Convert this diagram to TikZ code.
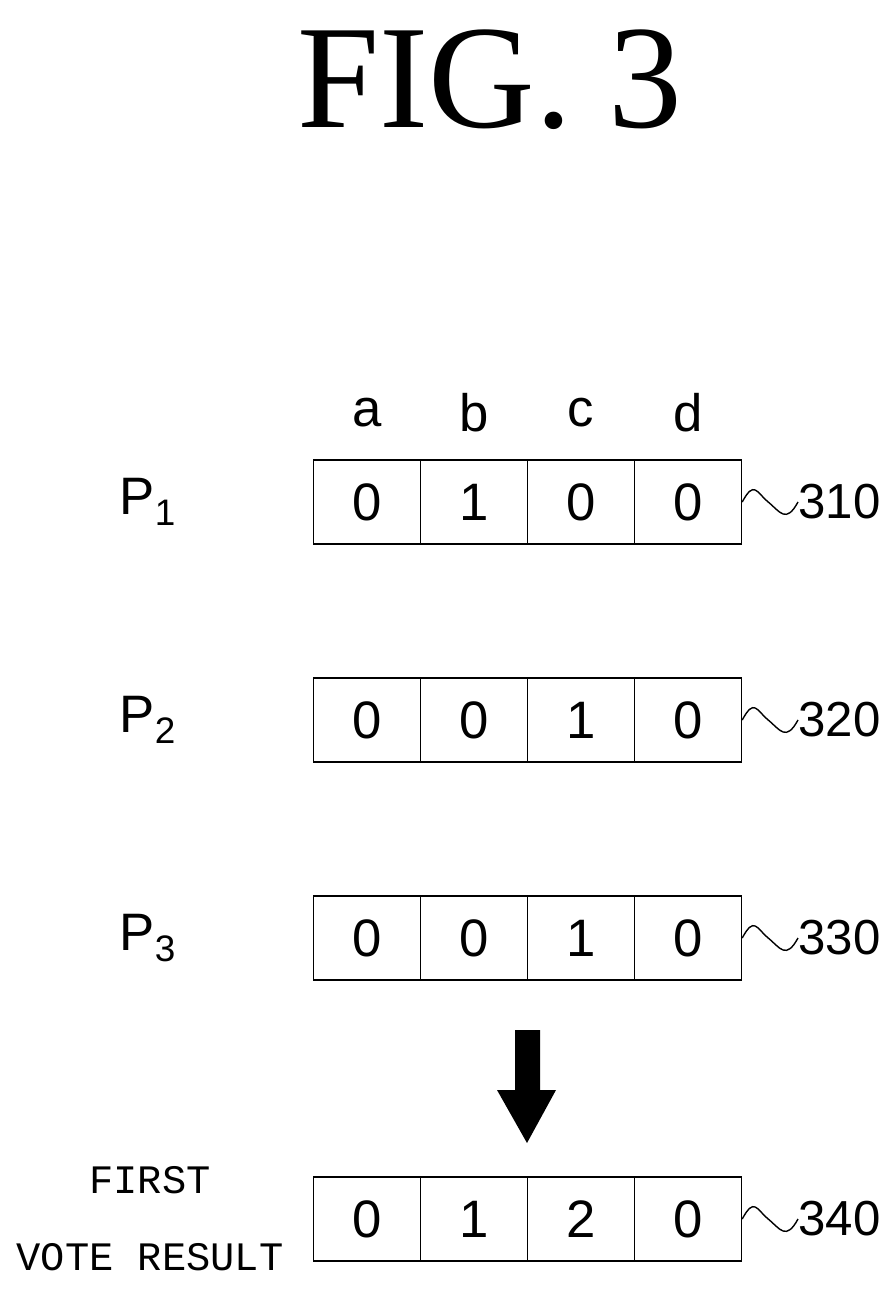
\documentclass[tikz,border=0pt]{standalone}
\usepackage{fontspec}
\setmainfont{Liberation Serif}
\setsansfont{Liberation Sans}
\setmonofont{Liberation Mono}
\tikzset{%
    cell/.style={draw,thick,minimum width=2.14cm,minimum height=1.68cm,inner sep=0pt,font=\sffamily\fontsize{30}{34}\selectfont},
    lbl/.style={font=\sffamily\fontsize{30}{34}\selectfont},
    refno/.style={font=\sffamily\fontsize{28}{32}\selectfont,anchor=west,inner sep=0pt}
}
\begin{document}
\begin{tikzpicture}[x=0.02cm,y=-0.02cm]
    \useasboundingbox (0,0) rectangle (890,1290);
    \node[font=\fontsize{84}{90}\selectfont] (title) at (490,80) {FIG.\ 3};

    % column headers
    \node[lbl] (ha) at (367,413) {a};
    \node[lbl] (hb) at (474,413) {b};
    \node[lbl] (hc) at (581,413) {c};
    \node[lbl] (hd) at (688,413) {d};

    % rows
    \foreach \r/\y/\va/\vb/\vc/\vd/\num in {1/502/0/1/0/0/310,2/720/0/0/1/0/320,3/938/0/0/1/0/330,4/1219/0/1/2/0/340}{
        \node[cell] (r\r a) at (367,\y) {\va};
        \node[cell] (r\r b) at (474,\y) {\vb};
        \node[cell] (r\r c) at (581,\y) {\vc};
        \node[cell] (r\r d) at (688,\y) {\vd};
        \node[refno] (n\r) at (798,\y) {\num};
        \draw[thick] (r\r d.east) .. controls +(12,-22) and +(-12,-10) .. +(26,0) .. controls +(12,10) and +(-12,22) .. (n\r.west);
    }

    \node[lbl] (p1) at (148,502) {P\textsubscript{1}};
    \node[lbl] (p2) at (148,720) {P\textsubscript{2}};
    \node[lbl] (p3) at (148,938) {P\textsubscript{3}};
    \node[font=\ttfamily\fontsize{23}{44}\selectfont,align=center] (vote) at (150,1219) {FIRST\\VOTE RESULT};

    % big arrow
    \fill (515,1030) -- (540,1030) -- (540,1090) -- (556,1090) -- (527,1143) -- (497,1090) -- (515,1090) -- cycle;
\end{tikzpicture}
\end{document}
